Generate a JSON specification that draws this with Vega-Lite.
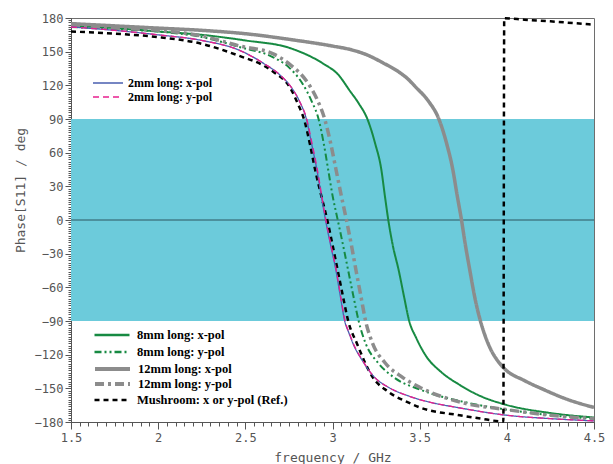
{
"$schema": "https://vega.github.io/schema/vega-lite/v6.json",
"width": 523, "height": 404,
"autosize": {"type": "none"},
"padding": {"left": 71, "top": 18, "right": 19, "bottom": 42},
"background": "white",
"config": {"view": {"stroke": "#6e6e6e", "strokeWidth": 1},
  "legend": {"orient": "none", "title": null, "padding": 0, "symbolType": "stroke", "labelFont": "Liberation Serif", "labelFontWeight": "bold", "labelFontSize": 12, "labelColor": "#000000", "labelLimit": 300, "clipHeight": 12},
  "axis": {"grid": false, "tickColor": "#555555", "domainColor": "#555555", "labelFont": "DejaVu Sans Mono", "labelFontSize": 12, "labelColor": "#555555", "titleFont": "DejaVu Sans Mono", "titleFontSize": 13, "titleFontWeight": "normal", "titleColor": "#555555"}},
"data": {"values": [
{"s":"2mm long: x-pol","f":1.5,"p":172},{"s":"2mm long: x-pol","f":1.75,"p":169},{"s":"2mm long: x-pol","f":2.0,"p":165},{"s":"2mm long: x-pol","f":2.25,"p":160},{"s":"2mm long: x-pol","f":2.47,"p":151},{"s":"2mm long: x-pol","f":2.6,"p":140},{"s":"2mm long: x-pol","f":2.7,"p":129},{"s":"2mm long: x-pol","f":2.76,"p":119},{"s":"2mm long: x-pol","f":2.81,"p":106},{"s":"2mm long: x-pol","f":2.85,"p":90},{"s":"2mm long: x-pol","f":2.88,"p":68},{"s":"2mm long: x-pol","f":2.91,"p":45},{"s":"2mm long: x-pol","f":2.935,"p":22},{"s":"2mm long: x-pol","f":2.96,"p":0},{"s":"2mm long: x-pol","f":2.99,"p":-23},{"s":"2mm long: x-pol","f":3.02,"p":-45},{"s":"2mm long: x-pol","f":3.045,"p":-68},{"s":"2mm long: x-pol","f":3.07,"p":-90},{"s":"2mm long: x-pol","f":3.095,"p":-101},{"s":"2mm long: x-pol","f":3.12,"p":-111},{"s":"2mm long: x-pol","f":3.17,"p":-125},{"s":"2mm long: x-pol","f":3.24,"p":-140},{"s":"2mm long: x-pol","f":3.32,"p":-149},{"s":"2mm long: x-pol","f":3.44,"p":-157},{"s":"2mm long: x-pol","f":3.5,"p":-160},{"s":"2mm long: x-pol","f":3.75,"p":-168},{"s":"2mm long: x-pol","f":4.0,"p":-174},{"s":"2mm long: x-pol","f":4.25,"p":-177},{"s":"2mm long: x-pol","f":4.5,"p":-179},
{"s":"2mm long: y-pol","f":1.5,"p":172},{"s":"2mm long: y-pol","f":1.75,"p":169},{"s":"2mm long: y-pol","f":2.0,"p":165},{"s":"2mm long: y-pol","f":2.25,"p":160},{"s":"2mm long: y-pol","f":2.47,"p":151},{"s":"2mm long: y-pol","f":2.6,"p":140},{"s":"2mm long: y-pol","f":2.7,"p":129},{"s":"2mm long: y-pol","f":2.76,"p":119},{"s":"2mm long: y-pol","f":2.81,"p":106},{"s":"2mm long: y-pol","f":2.852,"p":90},{"s":"2mm long: y-pol","f":2.883,"p":68},{"s":"2mm long: y-pol","f":2.913,"p":45},{"s":"2mm long: y-pol","f":2.938,"p":22},{"s":"2mm long: y-pol","f":2.962,"p":0},{"s":"2mm long: y-pol","f":2.992,"p":-23},{"s":"2mm long: y-pol","f":3.022,"p":-45},{"s":"2mm long: y-pol","f":3.047,"p":-68},{"s":"2mm long: y-pol","f":3.072,"p":-90},{"s":"2mm long: y-pol","f":3.097,"p":-101},{"s":"2mm long: y-pol","f":3.122,"p":-111},{"s":"2mm long: y-pol","f":3.172,"p":-125},{"s":"2mm long: y-pol","f":3.24,"p":-140},{"s":"2mm long: y-pol","f":3.32,"p":-149},{"s":"2mm long: y-pol","f":3.44,"p":-157},{"s":"2mm long: y-pol","f":3.5,"p":-160},{"s":"2mm long: y-pol","f":3.75,"p":-168},{"s":"2mm long: y-pol","f":4.0,"p":-174},{"s":"2mm long: y-pol","f":4.25,"p":-177},{"s":"2mm long: y-pol","f":4.5,"p":-179},
{"s":"8mm long: x-pol","f":1.5,"p":173},{"s":"8mm long: x-pol","f":1.75,"p":171},{"s":"8mm long: x-pol","f":2.0,"p":168},{"s":"8mm long: x-pol","f":2.25,"p":165},{"s":"8mm long: x-pol","f":2.5,"p":160},{"s":"8mm long: x-pol","f":2.76,"p":153},{"s":"8mm long: x-pol","f":2.95,"p":139},{"s":"8mm long: x-pol","f":3.03,"p":130},{"s":"8mm long: x-pol","f":3.1,"p":115},{"s":"8mm long: x-pol","f":3.15,"p":104},{"s":"8mm long: x-pol","f":3.2,"p":90},{"s":"8mm long: x-pol","f":3.245,"p":68},{"s":"8mm long: x-pol","f":3.28,"p":45},{"s":"8mm long: x-pol","f":3.3,"p":22},{"s":"8mm long: x-pol","f":3.32,"p":0},{"s":"8mm long: x-pol","f":3.345,"p":-22},{"s":"8mm long: x-pol","f":3.38,"p":-45},{"s":"8mm long: x-pol","f":3.41,"p":-68},{"s":"8mm long: x-pol","f":3.44,"p":-90},{"s":"8mm long: x-pol","f":3.48,"p":-105},{"s":"8mm long: x-pol","f":3.54,"p":-122},{"s":"8mm long: x-pol","f":3.62,"p":-135},{"s":"8mm long: x-pol","f":3.73,"p":-147},{"s":"8mm long: x-pol","f":3.85,"p":-157},{"s":"8mm long: x-pol","f":3.98,"p":-164},{"s":"8mm long: x-pol","f":4.25,"p":-172},{"s":"8mm long: x-pol","f":4.5,"p":-176},
{"s":"8mm long: y-pol","f":1.5,"p":172},{"s":"8mm long: y-pol","f":1.75,"p":170},{"s":"8mm long: y-pol","f":2.0,"p":168},{"s":"8mm long: y-pol","f":2.25,"p":163},{"s":"8mm long: y-pol","f":2.47,"p":154},{"s":"8mm long: y-pol","f":2.66,"p":145},{"s":"8mm long: y-pol","f":2.75,"p":136},{"s":"8mm long: y-pol","f":2.83,"p":121},{"s":"8mm long: y-pol","f":2.88,"p":106},{"s":"8mm long: y-pol","f":2.92,"p":90},{"s":"8mm long: y-pol","f":2.95,"p":68},{"s":"8mm long: y-pol","f":2.975,"p":45},{"s":"8mm long: y-pol","f":3.0,"p":22},{"s":"8mm long: y-pol","f":3.03,"p":0},{"s":"8mm long: y-pol","f":3.06,"p":-22},{"s":"8mm long: y-pol","f":3.09,"p":-45},{"s":"8mm long: y-pol","f":3.12,"p":-68},{"s":"8mm long: y-pol","f":3.15,"p":-90},{"s":"8mm long: y-pol","f":3.19,"p":-110},{"s":"8mm long: y-pol","f":3.26,"p":-127},{"s":"8mm long: y-pol","f":3.35,"p":-140},{"s":"8mm long: y-pol","f":3.5,"p":-151},{"s":"8mm long: y-pol","f":3.75,"p":-162},{"s":"8mm long: y-pol","f":4.0,"p":-169},{"s":"8mm long: y-pol","f":4.25,"p":-174},{"s":"8mm long: y-pol","f":4.5,"p":-177},
{"s":"12mm long: x-pol","f":1.5,"p":175},{"s":"12mm long: x-pol","f":1.75,"p":173},{"s":"12mm long: x-pol","f":2.0,"p":171},{"s":"12mm long: x-pol","f":2.25,"p":169},{"s":"12mm long: x-pol","f":2.5,"p":166},{"s":"12mm long: x-pol","f":2.75,"p":161},{"s":"12mm long: x-pol","f":3.0,"p":155},{"s":"12mm long: x-pol","f":3.1,"p":152},{"s":"12mm long: x-pol","f":3.2,"p":147},{"s":"12mm long: x-pol","f":3.29,"p":140},{"s":"12mm long: x-pol","f":3.38,"p":132},{"s":"12mm long: x-pol","f":3.43,"p":126},{"s":"12mm long: x-pol","f":3.48,"p":118},{"s":"12mm long: x-pol","f":3.55,"p":106},{"s":"12mm long: x-pol","f":3.61,"p":90},{"s":"12mm long: x-pol","f":3.655,"p":68},{"s":"12mm long: x-pol","f":3.69,"p":45},{"s":"12mm long: x-pol","f":3.715,"p":22},{"s":"12mm long: x-pol","f":3.74,"p":0},{"s":"12mm long: x-pol","f":3.762,"p":-22},{"s":"12mm long: x-pol","f":3.788,"p":-45},{"s":"12mm long: x-pol","f":3.815,"p":-68},{"s":"12mm long: x-pol","f":3.845,"p":-88},{"s":"12mm long: x-pol","f":3.875,"p":-103},{"s":"12mm long: x-pol","f":3.91,"p":-116},{"s":"12mm long: x-pol","f":3.95,"p":-126},{"s":"12mm long: x-pol","f":3.99,"p":-133},{"s":"12mm long: x-pol","f":4.1,"p":-143},{"s":"12mm long: x-pol","f":4.21,"p":-151},{"s":"12mm long: x-pol","f":4.35,"p":-160},{"s":"12mm long: x-pol","f":4.5,"p":-167},
{"s":"12mm long: y-pol","f":1.5,"p":173},{"s":"12mm long: y-pol","f":1.75,"p":171},{"s":"12mm long: y-pol","f":2.0,"p":169},{"s":"12mm long: y-pol","f":2.25,"p":164},{"s":"12mm long: y-pol","f":2.47,"p":155},{"s":"12mm long: y-pol","f":2.66,"p":148},{"s":"12mm long: y-pol","f":2.76,"p":138},{"s":"12mm long: y-pol","f":2.85,"p":124},{"s":"12mm long: y-pol","f":2.91,"p":108},{"s":"12mm long: y-pol","f":2.957,"p":89},{"s":"12mm long: y-pol","f":2.99,"p":68},{"s":"12mm long: y-pol","f":3.02,"p":45},{"s":"12mm long: y-pol","f":3.05,"p":22},{"s":"12mm long: y-pol","f":3.08,"p":0},{"s":"12mm long: y-pol","f":3.108,"p":-22},{"s":"12mm long: y-pol","f":3.135,"p":-45},{"s":"12mm long: y-pol","f":3.163,"p":-68},{"s":"12mm long: y-pol","f":3.19,"p":-90},{"s":"12mm long: y-pol","f":3.23,"p":-110},{"s":"12mm long: y-pol","f":3.3,"p":-127},{"s":"12mm long: y-pol","f":3.4,"p":-140},{"s":"12mm long: y-pol","f":3.5,"p":-149},{"s":"12mm long: y-pol","f":3.75,"p":-163},{"s":"12mm long: y-pol","f":4.0,"p":-169},{"s":"12mm long: y-pol","f":4.25,"p":-174},{"s":"12mm long: y-pol","f":4.5,"p":-177},
{"s":"Mushroom: x or y-pol (Ref.)","f":1.5,"p":168},{"s":"Mushroom: x or y-pol (Ref.)","f":1.75,"p":166},{"s":"Mushroom: x or y-pol (Ref.)","f":2.0,"p":163},{"s":"Mushroom: x or y-pol (Ref.)","f":2.25,"p":157},{"s":"Mushroom: x or y-pol (Ref.)","f":2.47,"p":146},{"s":"Mushroom: x or y-pol (Ref.)","f":2.6,"p":138},{"s":"Mushroom: x or y-pol (Ref.)","f":2.66,"p":132},{"s":"Mushroom: x or y-pol (Ref.)","f":2.76,"p":117},{"s":"Mushroom: x or y-pol (Ref.)","f":2.8,"p":104},{"s":"Mushroom: x or y-pol (Ref.)","f":2.84,"p":88},{"s":"Mushroom: x or y-pol (Ref.)","f":2.87,"p":68},{"s":"Mushroom: x or y-pol (Ref.)","f":2.9,"p":45},{"s":"Mushroom: x or y-pol (Ref.)","f":2.935,"p":22},{"s":"Mushroom: x or y-pol (Ref.)","f":2.97,"p":0},{"s":"Mushroom: x or y-pol (Ref.)","f":3.0,"p":-22},{"s":"Mushroom: x or y-pol (Ref.)","f":3.03,"p":-45},{"s":"Mushroom: x or y-pol (Ref.)","f":3.06,"p":-68},{"s":"Mushroom: x or y-pol (Ref.)","f":3.09,"p":-90},{"s":"Mushroom: x or y-pol (Ref.)","f":3.14,"p":-110},{"s":"Mushroom: x or y-pol (Ref.)","f":3.23,"p":-140},{"s":"Mushroom: x or y-pol (Ref.)","f":3.32,"p":-153},{"s":"Mushroom: x or y-pol (Ref.)","f":3.44,"p":-163},{"s":"Mushroom: x or y-pol (Ref.)","f":3.5,"p":-167},{"s":"Mushroom: x or y-pol (Ref.)","f":3.73,"p":-174},{"s":"Mushroom: x or y-pol (Ref.)","f":3.85,"p":-177},{"s":"Mushroom: x or y-pol (Ref.)","f":3.98,"p":-179.5},{"s":"Mushroom: x or y-pol (Ref.)","f":3.985,"p":179.8},{"s":"Mushroom: x or y-pol (Ref.)","f":4.1,"p":178.5},{"s":"Mushroom: x or y-pol (Ref.)","f":4.25,"p":177},{"s":"Mushroom: x or y-pol (Ref.)","f":4.5,"p":174}
]},
"layer": [
{"data": {"values": [{"lo": -90, "hi": 90}]},
 "mark": {"type": "rect", "color": "#6ccbdb"},
 "encoding": {"y": {"field": "lo", "type": "quantitative", "scale": {"domain": [-180, 180], "nice": false, "zero": false}, "axis": null}, "y2": {"field": "hi"}}},
{"data": {"values": [{"z": 0}]},
 "mark": {"type": "rule", "color": "#2c5661", "strokeWidth": 1},
 "encoding": {"y": {"field": "z", "type": "quantitative", "axis": null}}},
{"transform": [{"filter": "indexof(datum.s, '8mm') === 0"}],
 "mark": {"type": "line", "interpolate": "monotone", "strokeWidth": 2},
 "encoding": {
  "x": {"field": "f", "type": "quantitative",
    "axis": {"orient": "bottom", "title": null, "labels": false, "domain": false, "tickSize": 4,
      "values": [1.5,1.55,1.6,1.65,1.7,1.75,1.8,1.85,1.9,1.95,2,2.05,2.1,2.15,2.2,2.25,2.3,2.35,2.4,2.45,2.5,2.55,2.6,2.65,2.7,2.75,2.8,2.85,2.9,2.95,3,3.05,3.1,3.15,3.2,3.25,3.3,3.35,3.4,3.45,3.5,3.55,3.6,3.65,3.7,3.75,3.8,3.85,3.9,3.95,4,4.05,4.1,4.15,4.2,4.25,4.3,4.35,4.4,4.45,4.5]}},
  "y": {"field": "p", "type": "quantitative",
    "axis": {"orient": "left", "title": null, "labels": false, "domain": false, "tickSize": 3,
      "values": [-180,-178,-176,-174,-172,-170,-168,-166,-164,-162,-160,-158,-156,-154,-152,-150,-148,-146,-144,-142,-140,-138,-136,-134,-132,-130,-128,-126,-124,-122,-120,-118,-116,-114,-112,-110,-108,-106,-104,-102,-100,-98,-96,-94,-92,-90,-88,-86,-84,-82,-80,-78,-76,-74,-72,-70,-68,-66,-64,-62,-60,-58,-56,-54,-52,-50,-48,-46,-44,-42,-40,-38,-36,-34,-32,-30,-28,-26,-24,-22,-20,-18,-16,-14,-12,-10,-8,-6,-4,-2,0,2,4,6,8,10,12,14,16,18,20,22,24,26,28,30,32,34,36,38,40,42,44,46,48,50,52,54,56,58,60,62,64,66,68,70,72,74,76,78,80,82,84,86,88,90,92,94,96,98,100,102,104,106,108,110,112,114,116,118,120,122,124,126,128,130,132,134,136,138,140,142,144,146,148,150,152,154,156,158,160,162,164,166,168,170,172,174,176,178,180]}},
  "color": {"field": "s", "type": "nominal",
    "scale": {"domain": ["8mm long: x-pol", "8mm long: y-pol"], "range": ["#178a42", "#178a42"]},
    "legend": {"legendX": 22, "legendY": 311, "symbolSize": 1225, "symbolStrokeWidth": 2.5, "labelOffset": 6, "rowPadding": 4, "labelFontSize": 12.5}},
  "strokeDash": {"field": "s", "type": "nominal",
    "scale": {"domain": ["8mm long: x-pol", "8mm long: y-pol"], "range": [[1, 0], [7, 3, 2, 3, 2, 3]]}}
 }},
{"transform": [{"filter": "indexof(datum.s, '12mm') === 0"}],
 "mark": {"type": "line", "interpolate": "monotone", "strokeWidth": 3.5},
 "encoding": {
  "x": {"field": "f", "type": "quantitative", "axis": null},
  "y": {"field": "p", "type": "quantitative", "axis": null},
  "color": {"field": "s", "type": "nominal",
    "scale": {"domain": ["12mm long: x-pol", "12mm long: y-pol"], "range": ["#8c8c8c", "#8c8c8c"]},
    "legend": {"legendX": 22, "legendY": 345, "symbolSize": 1225, "symbolStrokeWidth": 4, "labelOffset": 6, "rowPadding": 2, "labelFontSize": 12.5}},
  "strokeDash": {"field": "s", "type": "nominal",
    "scale": {"domain": ["12mm long: x-pol", "12mm long: y-pol"], "range": [[1, 0], [9, 4, 3, 4]]}}
 }},
{"transform": [{"filter": "indexof(datum.s, 'Mush') === 0"}],
 "mark": {"type": "line", "interpolate": "monotone", "strokeWidth": 2.5},
 "encoding": {
  "x": {"field": "f", "type": "quantitative", "axis": null},
  "y": {"field": "p", "type": "quantitative", "axis": null},
  "color": {"field": "s", "type": "nominal",
    "scale": {"domain": ["Mushroom: x or y-pol (Ref.)"], "range": ["#000000"]},
    "legend": {"legendX": 22, "legendY": 376, "symbolSize": 1225, "symbolStrokeWidth": 2.5, "labelOffset": 6, "labelFontSize": 12.5}},
  "strokeDash": {"field": "s", "type": "nominal",
    "scale": {"domain": ["Mushroom: x or y-pol (Ref.)"], "range": [[5, 4]]}}
 }},
{"transform": [{"filter": "indexof(datum.s, '2mm') === 0"}],
 "mark": {"type": "line", "interpolate": "monotone", "strokeWidth": 1.3},
 "encoding": {
  "x": {"field": "f", "type": "quantitative", "scale": {"domain": [1.5, 4.5], "nice": false, "zero": false},
    "axis": {"orient": "bottom", "title": "frequency / GHz",
      "values": [1.5, 2, 2.5, 3, 3.5, 4, 4.5], "format": "~g", "tickSize": 7,
      "labelOverlap": false, "labelFlush": false, "labelPadding": 3,
      "titleY": 35, "titleBaseline": "middle"}},
  "y": {"field": "p", "type": "quantitative", "scale": {"domain": [-180, 180], "nice": false, "zero": false},
    "axis": {"orient": "left", "title": "Phase[S11] / deg",
      "values": [-180, -150, -120, -90, -60, -30, 0, 30, 60, 90, 120, 150, 180], "format": "d", "tickSize": 6,
      "labelOverlap": false, "labelFlush": false, "labelPadding": 2,
      "titleX": -51, "titleY": 172, "titleAlign": "center", "titleBaseline": "middle"}},
  "color": {"field": "s", "type": "nominal",
    "scale": {"domain": ["2mm long: x-pol", "2mm long: y-pol"], "range": ["#4a5fb0", "#e8208e"]},
    "legend": {"legendX": 21, "legendY": 59, "symbolSize": 900, "symbolStrokeWidth": 1.5, "labelOffset": 4, "rowPadding": 2}},
  "strokeDash": {"field": "s", "type": "nominal",
    "scale": {"domain": ["2mm long: x-pol", "2mm long: y-pol"], "range": [[1, 0], [6, 4]]}}
 }}
],
"resolve": {"scale": {"color": "independent", "strokeDash": "independent"}, "axis": {"x": "independent", "y": "independent"}}
}
